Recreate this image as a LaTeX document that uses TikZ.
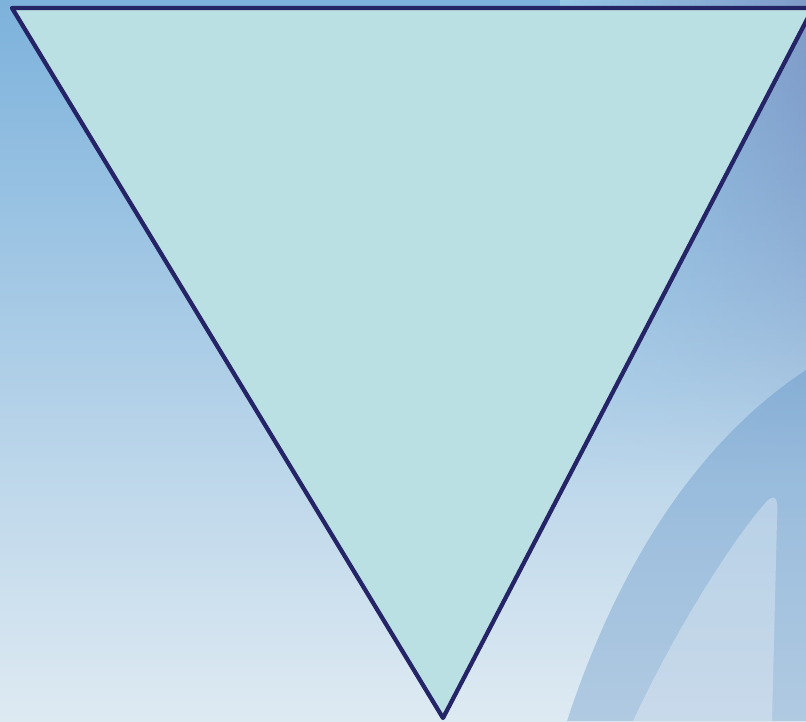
\documentclass[tikz,border=0pt]{standalone}
\usepackage{tikz}
\usetikzlibrary{calc, fadings}

\definecolor{skytop}{RGB}{125,178,220}
\definecolor{skymid}{RGB}{150,200,232}
\definecolor{skybot}{RGB}{222,234,242}
\definecolor{skyedge}{RGB}{128,155,200}
\definecolor{bandblue}{RGB}{60,120,185}
\definecolor{trifill}{RGB}{186,224,227}
\definecolor{triedge}{RGB}{37,36,102}

\begin{document}
\begin{tikzpicture}[
    x=0.75pt, y=-0.75pt,
    band/.style={
        fill=bandblue,
        fill opacity=0.28
    },
    tongue/.style={
        fill=white,
        fill opacity=0.30
    },
    funnel/.style={
        fill=trifill,
        draw=triedge,
        line width=3.2pt,
        line join=round
    }
]

% background
\useasboundingbox (0,0) rectangle (806,721);
\shade[top color=skytop, middle color=skymid, bottom color=skybot]
    (0,0) rectangle (806,721);
\shade[left color=skymid, right color=skyedge, path fading=south]
    (560,0) rectangle (806,480);

% arcs on the right
\fill[band] (567,721) .. controls (620,560) and (700,440) .. (806,370)
    -- (806,721) -- cycle;
\fill[tongue] (633,721) .. controls (680,620) and (740,530) .. (768,500)
    .. controls (778,492) and (778,505) .. (777,520) -- (772,721) -- cycle;

% triangle
\coordinate (topleft) at (12,8);
\coordinate (topright) at (813,8);
\coordinate (tip) at (443,718);
\draw[funnel] (topleft) -- (topright) -- (tip) -- cycle;

\end{tikzpicture}
\end{document}
